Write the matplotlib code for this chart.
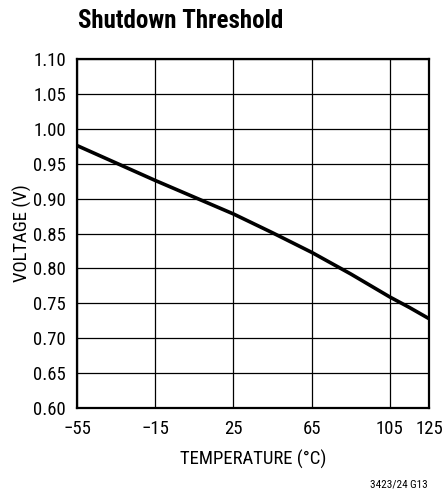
import numpy as np
import matplotlib.pyplot as plt
from matplotlib import font_manager

# shutdown threshold vs temperature
temp = [-55, -35, -15, 5, 25, 45, 65, 85, 105, 115, 125]
volt = [0.976, 0.951, 0.926, 0.902, 0.878, 0.851, 0.823, 0.792, 0.759, 0.744, 0.728]

xticks = [-55, -15, 25, 65, 105, 125]
xtick_labels = ['\u221255', '\u221215', '25', '65', '105', '125']
yticks = np.round(np.arange(0.60, 1.101, 0.05), 2)

# narrow face if there is one, else plain Liberation Sans
names = {f.name for f in font_manager.fontManager.ttflist}
fams = [n for n in ['Liberation Sans Narrow', 'Roboto Condensed', 'Arial Narrow'] if n in names]
plt.rcParams['font.family'] = fams + ['Liberation Sans', 'DejaVu Sans']
narrow = len(fams) > 0
fs = 13.5 if narrow else 12.5

fig = plt.figure(figsize=(4.45, 4.93), dpi=100)
ax = fig.add_axes([77/445, 1 - 408/493, 352/445, 349/493])

ax.plot(temp, volt, color='black', lw=2.6, solid_capstyle='butt', zorder=3)

ax.set_xlim(-55, 125)
ax.set_ylim(0.60, 1.10)
ax.set_xticks(xticks)
ax.set_xticklabels(xtick_labels)
ax.set_yticks(yticks)
ax.set_yticklabels(['%.2f' % v for v in yticks])
ax.grid(True, color='black', lw=0.9)
ax.tick_params(length=0, labelsize=fs)
ax.tick_params(axis='x', pad=9)
ax.tick_params(axis='y', pad=8)
for s in ax.spines.values():
    s.set_linewidth(1.6)

ax.set_xlabel('TEMPERATURE (\u00b0C)', fontsize=fs, labelpad=8)
ax.set_ylabel('VOLTAGE (V)', fontsize=fs, labelpad=1)

fig.text(78/445, 1 - 21/493, 'Shutdown Threshold', fontsize=18 if narrow else 15.5,
         fontweight='bold', va='center', ha='left')
fig.text(428/445, 1 - 485/493, '3423/24 G13', fontsize=8 if narrow else 7.5,
         ha='right', va='center')

fig.savefig('out.png', dpi=100)
